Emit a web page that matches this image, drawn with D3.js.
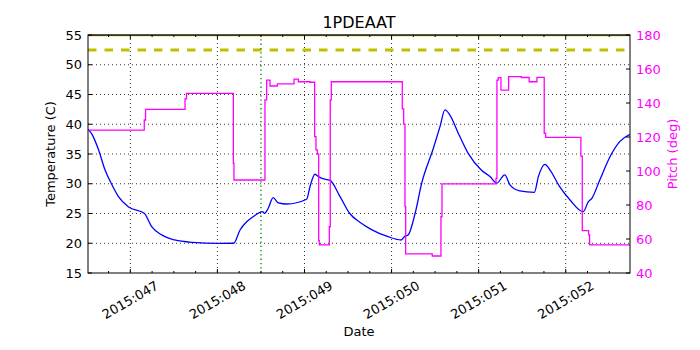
<!DOCTYPE html>
<html><head><meta charset="utf-8">
<script src="https://cdn.jsdelivr.net/npm/d3@7"></script>
<style>body{margin:0;background:#fff;} svg{display:block;font-family:"DejaVu Sans",sans-serif;}</style>
</head><body>
<svg id="c" width="700" height="350"></svg>
<script>
const title = "1PDEAAT";
const xDays = [47, 48, 49, 50, 51, 52];
const xTickLabels = ["2015:047", "2015:048", "2015:049", "2015:050", "2015:051", "2015:052"];
const xDomain = [46.514, 52.738];
const tempTicks = [15, 20, 25, 30, 35, 40, 45, 50, 55];
const pitchTicks = [40, 60, 80, 100, 120, 140, 160, 180];
const limitTemp = 52.5;
const topLimit = 55;
const markerDay = 48.5;

const tempDays = [46.517, 46.56, 46.636, 46.71, 46.79, 46.866, 46.98, 47.16, 47.245, 47.36, 47.51, 47.71, 48.01, 48.186,
  48.26, 48.336, 48.41, 48.52, 48.54, 48.58, 48.64, 48.70, 48.795, 49.025, 49.063, 49.12, 49.16, 49.22, 49.29,
  49.41, 49.52, 49.64, 49.77, 49.96, 50.11, 50.155, 50.19, 50.27, 50.346, 50.48, 50.556, 50.613, 50.67, 50.766,
  50.88, 51.03, 51.13, 51.207, 51.30, 51.36, 51.47, 51.64, 51.686, 51.76, 51.82, 51.93, 52.05, 52.2, 52.26,
  52.30, 52.39, 52.507, 52.62, 52.738];
const tempValues = [39.15, 38.3, 35.67, 32.3, 29.8, 27.8, 26.1, 25.03, 22.8, 21.4, 20.55, 20.15, 19.99, 20.0,
  22.23, 23.6, 24.46, 25.3, 25.03, 25.76, 27.66, 26.8, 26.6, 27.4, 29.5, 31.6, 31.2, 30.8, 30.6,
  27.8, 25.0, 23.5, 22.3, 21.1, 20.55, 21.2, 21.4, 25.0, 30.1, 35.96, 39.6, 42.4, 41.55, 38.5,
  35.1, 32.3, 31.2, 30.1, 31.5, 29.8, 28.8, 28.56, 31.2, 33.27, 32.3, 29.5, 27.27, 25.3, 26.98,
  27.55, 30.6, 34.5, 37.07, 38.3];

const pitchDays = [46.517, 47.16, 47.175, 47.628, 47.645, 48.183, 48.19, 48.546, 48.566, 48.604, 48.688, 48.88, 48.93,
  49.063, 49.117, 49.132, 49.147, 49.163, 49.17, 49.285, 49.296, 49.308, 50.123, 50.139, 50.154, 50.162,
  50.467, 50.567, 50.579, 51.199, 51.21, 51.225, 51.256, 51.344, 51.49, 51.58, 51.67, 51.753, 51.769,
  52.174, 52.19, 52.263, 52.274, 52.738];
const pitchValues = [124.1, 130, 136.3, 142.4, 145.7, 104.5, 94.7, 141.8, 153.5, 150, 151.2, 154, 152.5,
  152.2, 120.2, 112.4, 110, 59, 56.5, 67.2, 141.8, 152.5, 136.5, 127.6, 79, 51.2,
  50, 73.1, 92.4, 95.7, 153.5, 154.9, 147.6, 155.5, 155, 152.5, 155.1, 122.2, 119.8,
  108.8, 64.9, 62.4, 56.5, 56.5];

const L = 88, R = 630, T = 35, B = 273;
const svg = d3.select("#c");
const x = d3.scaleLinear().domain(xDomain).range([L, R]);
const yT = d3.scaleLinear().domain([15, 55]).range([B, T]);
const yP = d3.scaleLinear().domain([40, 180]).range([B, T]);

// grid
const g = svg.append("g");
g.selectAll(".gx").data(xDays).enter().append("line")
  .attr("x1", d => x(d)).attr("x2", d => x(d)).attr("y1", T).attr("y2", B)
  .attr("stroke", "#000").attr("stroke-width", 0.8).attr("stroke-dasharray", "1,3");
g.selectAll(".gy").data(tempTicks.slice(1, -1)).enter().append("line")
  .attr("x1", L).attr("x2", R).attr("y1", d => yT(d)).attr("y2", d => yT(d))
  .attr("stroke", "#000").attr("stroke-width", 0.8).attr("stroke-dasharray", "1,3");

svg.append("clipPath").attr("id", "pc").append("rect")
  .attr("x", L).attr("y", T).attr("width", R - L).attr("height", B - T);
const plot = svg.append("g").attr("clip-path", "url(#pc)");

// temperature line
const tData = tempDays.map((d, i) => [d, tempValues[i]]);
plot.append("path").datum(tData)
  .attr("d", d3.line().x(d => x(d[0])).y(d => yT(d[1])).curve(d3.curveMonotoneX))
  .attr("fill", "none").attr("stroke", "#0000ff").attr("stroke-width", 1.3);

// limits
plot.append("line").attr("x1", L).attr("x2", R).attr("y1", yT(limitTemp)).attr("y2", yT(limitTemp))
  .attr("stroke", "#bfbf00").attr("stroke-width", 3).attr("stroke-dasharray", "8.5,8");
plot.append("line").attr("x1", L).attr("x2", R).attr("y1", yT(topLimit)).attr("y2", yT(topLimit))
  .attr("stroke", "#bfbf00").attr("stroke-width", 2.5);
plot.append("line").attr("x1", x(markerDay)).attr("x2", x(markerDay)).attr("y1", T).attr("y2", B)
  .attr("stroke", "#008000").attr("stroke-width", 1.3).attr("stroke-dasharray", "1.3,3");

// pitch line
const pData = pitchDays.map((d, i) => [d, pitchValues[i]]);
plot.append("path").datum(pData)
  .attr("d", d3.line().x(d => x(d[0])).y(d => yP(d[1])).curve(d3.curveStepAfter))
  .attr("fill", "none").attr("stroke", "#ff00ff").attr("stroke-width", 1.3);

// frame
svg.append("rect").attr("x", L).attr("y", T).attr("width", R - L).attr("height", B - T)
  .attr("fill", "none").attr("stroke", "#000").attr("stroke-width", 1);
svg.append("line").attr("x1", L).attr("x2", R).attr("y1", T).attr("y2", T)
  .attr("stroke", "#000").attr("stroke-width", 1.2).attr("opacity", 0.7);

// x ticks
const minor = d3.range(Math.ceil(xDomain[0] * 4), Math.floor(xDomain[1] * 4) + 1).map(v => v / 4)
  .filter(v => !xDays.includes(v));
const tk = svg.append("g").attr("stroke", "#000").attr("stroke-width", 1);
xDays.forEach(d => {
  tk.append("line").attr("x1", x(d)).attr("x2", x(d)).attr("y1", B).attr("y2", B - 4);
  tk.append("line").attr("x1", x(d)).attr("x2", x(d)).attr("y1", T).attr("y2", T + 4);
});
minor.forEach(d => {
  tk.append("line").attr("x1", x(d)).attr("x2", x(d)).attr("y1", B).attr("y2", B - 2);
  tk.append("line").attr("x1", x(d)).attr("x2", x(d)).attr("y1", T).attr("y2", T + 2);
});
tempTicks.forEach(d => tk.append("line").attr("x1", L).attr("x2", L + 4).attr("y1", yT(d)).attr("y2", yT(d)));
pitchTicks.forEach(d => tk.append("line").attr("x1", R).attr("x2", R - 4).attr("y1", yP(d)).attr("y2", yP(d)));

// x labels
svg.append("g").selectAll("text").data(xDays).enter().append("text")
  .attr("transform", d => `translate(${x(d)},${300}) rotate(-30)`)
  .attr("text-anchor", "middle").attr("dominant-baseline", "central")
  .attr("font-size", 13).attr("fill", "#000").text((d, i) => xTickLabels[i]);

// left labels
svg.append("g").selectAll("text").data(tempTicks).enter().append("text")
  .attr("x", L - 6).attr("y", d => yT(d)).attr("text-anchor", "end").attr("dominant-baseline", "central")
  .attr("font-size", 13).attr("fill", "#000").text(d => d);
// right labels
svg.append("g").selectAll("text").data(pitchTicks).enter().append("text")
  .attr("x", R + 6).attr("y", d => yP(d)).attr("text-anchor", "start").attr("dominant-baseline", "central")
  .attr("font-size", 13).attr("fill", "#ff00ff").text(d => d);

svg.append("text").attr("x", (L + R) / 2).attr("y", 28).attr("text-anchor", "middle")
  .attr("font-size", 16).attr("fill", "#000").text(title);
svg.append("text").attr("x", (L + R) / 2).attr("y", 336).attr("text-anchor", "middle")
  .attr("font-size", 13).attr("fill", "#000").text("Date");
svg.append("text").attr("transform", `translate(55,${(T + B) / 2}) rotate(-90)`).attr("text-anchor", "middle")
  .attr("font-size", 13).attr("fill", "#000").text("Temperature (C)");
svg.append("text").attr("transform", `translate(677,${(T + B) / 2}) rotate(-90)`).attr("text-anchor", "middle")
  .attr("font-size", 13).attr("fill", "#ff00ff").text("Pitch (deg)");
</script>
</body></html>
